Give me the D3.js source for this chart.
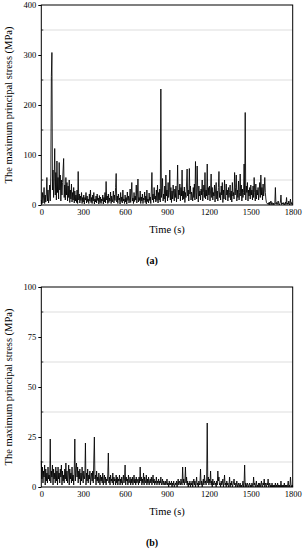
<!DOCTYPE html>
<html>
<head>
  <meta charset="utf-8">
  <title>Maximum principal stress</title>
  <script src="https://d3js.org/d3.v7.min.js"></script>
  <style>
    body { margin: 0; background: #fff; }
    svg text { font-family: "Liberation Serif", "Times New Roman", serif; }
  </style>
</head>
<body>
  <script>
  // sampling step of both series (s)
  var step = 4;

  // (a) stress values (MPa), one every 4 s from 0 to 1800 s, 15 per row = 60 s
  var stressA = [
    10, 2, 25, 4, 18, 35, 3, 20, 6, 22, 55, 8, 30, 4, 20,
    40, 8, 60, 257, 305, 30, 70, 15, 50, 113, 20, 65, 10, 88, 25,
    55, 12, 85, 30, 60, 8, 50, 20, 45, 70, 93, 15, 40, 10, 55,
    20, 45, 8, 38, 15, 50, 5, 30, 12, 42, 6, 25, 10, 35, 4,
    28, 8, 20, 5, 30, 3, 67, 10, 22, 4, 18, 9, 25, 3, 15,
    6, 20, 2, 15, 10, 25, 4, 18, 7, 12, 3, 22, 8, 30, 5,
    15, 3, 20, 8, 25, 2, 12, 6, 18, 4, 22, 9, 14, 2, 19,
    5, 16, 3, 12, 8, 20, 2, 15, 6, 25, 4, 47, 10, 18, 3,
    22, 5, 14, 8, 26, 3, 18, 6, 12, 28, 4, 20, 9, 35, 63,
    6, 18, 3, 22, 10, 14, 2, 25, 7, 16, 4, 30, 8, 12, 3,
    20, 6, 15, 2, 26, 9, 18, 4, 12, 32, 5, 22, 45, 8, 14,
    3, 25, 7, 18, 10, 40, 4, 20, 52, 6, 15, 9, 28, 3, 16,
    8, 22, 3, 14, 10, 26, 5, 18, 2, 30, 7, 12, 4, 24, 9,
    16, 3, 28, 65, 10, 22, 5, 35, 12, 18, 6, 30, 9, 40, 4,
    25, 10, 32, 6, 232, 15, 28, 53, 8, 22, 12, 38, 5, 60, 18,
    30, 8, 45, 15, 25, 70, 10, 35, 5, 28, 12, 40, 20, 8, 32,
    15, 38, 6, 25, 80, 12, 30, 20, 42, 8, 35, 18, 70, 10, 28,
    12, 36, 5, 25, 15, 42, 72, 18, 30, 8, 73, 22, 38, 10, 26,
    20, 8, 35, 15, 42, 10, 87, 25, 12, 78, 30, 6, 38, 18, 28,
    10, 32, 20, 50, 8, 25, 40, 15, 65, 12, 30, 18, 82, 10, 35,
    20, 38, 8, 28, 62, 15, 35, 10, 25, 18, 40, 6, 30, 45, 12,
    28, 8, 35, 67, 15, 25, 10, 38, 20, 45, 5, 30, 12, 50, 18,
    10, 42, 20, 30, 8, 35, 15, 25, 40, 10, 28, 6, 45, 18, 25,
    12, 65, 20, 35, 60, 8, 30, 15, 48, 10, 25, 62, 18, 40, 8,
    32, 15, 25, 82, 20, 185, 10, 38, 25, 45, 8, 30, 18, 35, 12,
    40, 20, 30, 10, 38, 15, 55, 25, 8, 42, 12, 30, 20, 35, 10,
    28, 45, 15, 60, 20, 35, 10, 42, 18, 30, 55, 25, 12, 5, 3,
    2, 4, 1, 6, 0, 3, 8, 1, 5, 2, 0, 4, 1, 3, 35,
    2, 5, 1, 4, 8, 2, 0, 3, 6, 20, 1, 4, 2, 5, 1,
    3, 0, 6, 2, 15, 1, 4, 2, 8, 0, 3, 12, 1, 5, 2,
    2
  ];

  // (b) stress values (MPa), one every 4 s from 0 to 1800 s, 15 per row = 60 s
  var stressB = [
    13, 4, 10, 2, 8, 5, 11, 1, 9, 3, 7, 2, 10, 4, 6,
    3, 24, 2, 8, 5, 11, 1, 9, 4, 7, 2, 10, 3, 8, 1,
    10, 4, 7, 2, 9, 5, 11, 1, 8, 3, 6, 2, 9, 4, 12,
    3, 8, 2, 6, 11, 1, 9, 4, 7, 2, 10, 3, 6, 1, 8,
    24, 3, 9, 12, 5, 10, 2, 8, 4, 9, 1, 7, 3, 10, 5,
    2, 8, 4, 6, 22, 1, 7, 3, 9, 2, 6, 4, 8, 1, 5,
    7, 3, 8, 2, 14, 25, 4, 6, 1, 8, 3, 5, 2, 7, 4,
    1, 6, 3, 5, 2, 7, 1, 4, 6, 2, 5, 1, 4, 3, 6,
    17, 2, 5, 1, 6, 3, 4, 2, 7, 1, 5, 3, 4, 1, 6,
    2, 5, 1, 4, 3, 6, 1, 4, 2, 5, 1, 3, 6, 2, 4,
    11, 1, 5, 3, 4, 1, 6, 2, 3, 5, 1, 4, 2, 5, 1,
    3, 6, 2, 4, 1, 5, 2, 3, 4, 1, 5, 2, 10, 3, 5,
    1, 4, 2, 7, 1, 5, 3, 2, 6, 1, 4, 2, 5, 1, 3,
    4, 2, 5, 1, 3, 6, 2, 4, 1, 3, 2, 5, 1, 3, 2,
    4, 1, 3, 2, 5, 1, 2, 4, 1, 3, 2, 1, 3, 1, 2,
    4, 1, 2, 0, 3, 1, 2, 1, 3, 0, 2, 1, 3, 0, 1,
    2, 1, 3, 0, 2, 4, 1, 3, 2, 1, 4, 2, 1, 10, 2,
    4, 1, 3, 10, 2, 5, 1, 3, 0, 2, 1, 3, 0, 2, 1,
    3, 0, 2, 4, 1, 3, 0, 2, 5, 1, 2, 0, 3, 1, 2,
    9, 1, 3, 0, 2, 4, 1, 6, 2, 3, 1, 4, 32, 2, 5,
    1, 4, 2, 8, 1, 3, 0, 4, 1, 2, 3, 1, 2, 0, 3,
    1, 8, 3, 5, 1, 2, 0, 3, 1, 2, 4, 0, 2, 6, 1,
    2, 0, 3, 1, 2, 0, 1, 5, 0, 2, 1, 3, 0, 1, 2,
    4, 1, 2, 0, 1, 3, 0, 1, 2, 0, 1, 2, 0, 1, 0,
    1, 3, 0, 2, 11, 0, 2, 1, 0, 2, 1, 0, 1, 2, 0,
    1, 0, 2, 1, 0, 5, 1, 2, 0, 1, 3, 0, 1, 0, 2,
    0, 2, 1, 0, 3, 1, 0, 2, 1, 4, 0, 2, 1, 0, 2,
    1, 4, 0, 1, 2, 0, 1, 0, 2, 0, 1, 0, 1, 0, 2,
    0, 1, 0, 2, 0, 1, 0, 1, 0, 3, 0, 1, 0, 1, 0,
    2, 0, 1, 0, 1, 0, 1, 3, 0, 1, 0, 5, 1, 0, 1,
    0
  ];

  var timeTicks = [0, 300, 600, 900, 1200, 1500, 1800];
  var ticksA = [0, 100, 200, 300, 400];
  var gridA = [50, 150, 250, 350];
  var ticksB = [0, 25, 50, 75, 100];
  var gridB = [12.5, 37.5, 62.5, 87.5];

  var svg = d3.select("body").append("svg")
    .attr("width", 304).attr("height", 550);

  function panel(values, yMax, yTicks, yGrid, top, tag) {
    var left = 41.3, right = 292.7, bottom = top + 200;
    var x = d3.scaleLinear().domain([0, 1800]).range([left, right]);
    var y = d3.scaleLinear().domain([0, yMax]).range([bottom, top]);
    var g = svg.append("g");

    // grid lines
    g.selectAll(".grid").data(yGrid).enter().append("line")
      .attr("x1", left).attr("x2", right)
      .attr("y1", function(d) { return y(d); })
      .attr("y2", function(d) { return y(d); })
      .attr("stroke", "#d4d4d4").attr("stroke-width", 0.8);

    var line = d3.line()
      .x(function(d, i) { return x(i * step); })
      .y(function(d) { return y(d); });
    g.append("path").datum(values)
      .attr("d", line)
      .attr("fill", "none")
      .attr("stroke", "#000")
      .attr("stroke-width", 0.85);

    var ya = g.append("g").attr("transform", "translate(" + left + ",0)")
      .call(d3.axisLeft(y).tickValues(yTicks).tickFormat(d3.format("d"))
        .tickSize(3).tickPadding(2));
    var xa = g.append("g").attr("transform", "translate(0," + bottom + ")")
      .call(d3.axisBottom(x).tickValues(timeTicks).tickFormat(d3.format("d"))
        .tickSize(0).tickPadding(4));
    [ya, xa].forEach(function(a) {
      a.attr("font-family", null);
      a.select(".domain").remove();
      a.selectAll("text").attr("font-size", 8.5).attr("fill", "#000");
    });

    // minor ticks inside at grid positions
    g.selectAll(".minor").data(yGrid).enter().append("line")
      .attr("x1", left).attr("x2", left + 2)
      .attr("y1", function(d) { return y(d); })
      .attr("y2", function(d) { return y(d); })
      .attr("stroke", "#000").attr("stroke-width", 0.8);

    g.append("rect")
      .attr("x", left).attr("y", top)
      .attr("width", right - left).attr("height", bottom - top)
      .attr("fill", "none").attr("stroke", "#000").attr("stroke-width", 1);

    g.append("text")
      .attr("x", (left + right) / 2).attr("y", bottom + 28)
      .attr("text-anchor", "middle").attr("font-size", 10.5)
      .text("Time (s)");

    g.append("text")
      .attr("transform", "translate(12," + (top + 100) + ") rotate(-90)")
      .attr("text-anchor", "middle").attr("font-size", 10.5)
      .text("The maximum principal stress (MPa)");

    g.append("text")
      .attr("x", 152).attr("y", bottom + 59)
      .attr("text-anchor", "middle").attr("font-size", 10)
      .attr("font-weight", "bold")
      .text(tag);
  }

  panel(stressA, 400, ticksA, gridA, 5, "(a)");
  panel(stressB, 100, ticksB, gridB, 287, "(b)");
  </script>
</body>
</html>
